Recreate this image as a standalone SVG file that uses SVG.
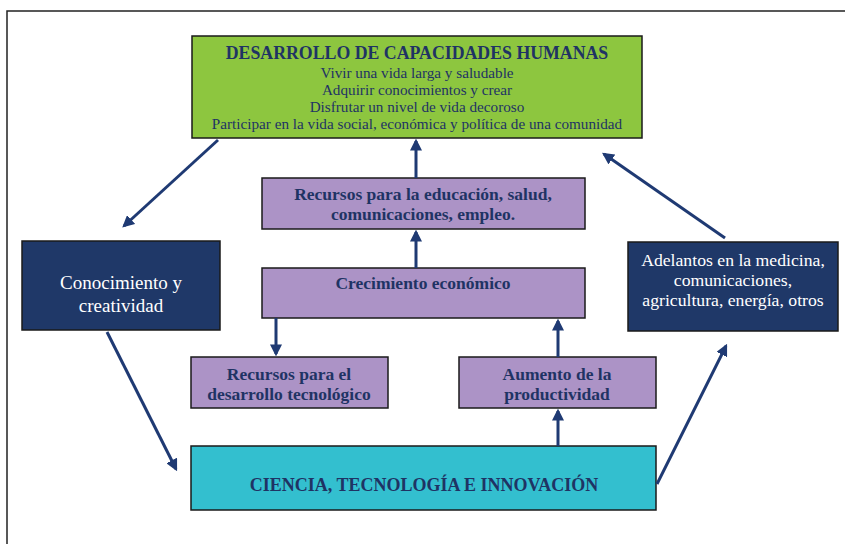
<svg xmlns="http://www.w3.org/2000/svg" width="845" height="544" viewBox="0 0 845 544">
<defs>
<style>
.frame{fill:none;stroke:#222;stroke-width:1.5}
.box{stroke:#1a1a1a;stroke-width:1.5}
.green{fill:#8dc63f}
.navy{fill:#1f3868}
.purple{fill:#ac93c6}
.cyan{fill:#33bfcf}
text{font-family:"Liberation Serif","Times New Roman",serif;text-anchor:middle}
.dk{fill:#1f3364}
.wt{fill:#ffffff}
.b{font-weight:bold}
.conn line{stroke:#1f3a73;stroke-width:3;marker-end:url(#ah)}
</style>
<marker id="ah" viewBox="0 0 10 10" refX="8" refY="5" markerWidth="4" markerHeight="4" orient="auto" markerUnits="strokeWidth">
<path d="M0,0 L10,5 L0,10 z" fill="#1f3a73"/>
</marker>
</defs>
<rect width="845" height="544" fill="#ffffff"/>
<rect class="frame" x="7" y="11" width="850" height="550"/>

<g id="capacidades">
<rect class="box green" x="192" y="36" width="450" height="102"/>
<text class="dk b" x="417" y="59" font-size="17.8">DESARROLLO DE CAPACIDADES HUMANAS</text>
<text class="dk" x="417" y="78" font-size="15.2">Vivir una vida larga y saludable</text>
<text class="dk" x="417" y="95" font-size="15.2">Adquirir conocimientos y crear</text>
<text class="dk" x="417" y="112" font-size="15.2">Disfrutar un nivel de vida decoroso</text>
<text class="dk" x="417" y="129" font-size="15.2">Participar en la vida social, económica y política de una comunidad</text>
</g>

<g id="conocimiento">
<rect class="box navy" x="22" y="241" width="198" height="89"/>
<text class="wt" x="121" y="289" font-size="19">Conocimiento y</text>
<text class="wt" x="121" y="312" font-size="19">creatividad</text>
</g>

<g id="adelantos">
<rect class="box navy" x="628" y="242" width="210" height="89"/>
<text class="wt" x="733" y="266" font-size="17.7">Adelantos en la medicina,</text>
<text class="wt" x="733" y="286" font-size="17.7">comunicaciones,</text>
<text class="wt" x="733" y="306" font-size="17.7">agricultura, energía, otros</text>
</g>

<g id="recursos-educacion">
<rect class="box purple" x="262" y="178" width="323" height="51"/>
<text class="dk b" x="423" y="200" font-size="17.5">Recursos para la educación, salud,</text>
<text class="dk b" x="423" y="220" font-size="17.5">comunicaciones, empleo.</text>
</g>

<g id="crecimiento">
<rect class="box purple" x="262" y="268" width="323" height="50"/>
<text class="dk b" x="423" y="289" font-size="17.5">Crecimiento económico</text>
</g>

<g id="recursos-desarrollo">
<rect class="box purple" x="191" y="357" width="197" height="51"/>
<text class="dk b" x="289" y="380" font-size="17.5">Recursos para el</text>
<text class="dk b" x="289" y="400" font-size="17.5">desarrollo tecnológico</text>
</g>

<g id="aumento">
<rect class="box purple" x="459" y="357" width="197" height="51"/>
<text class="dk b" x="557" y="380" font-size="17.5">Aumento de la</text>
<text class="dk b" x="557" y="400" font-size="17.5">productividad</text>
</g>

<g id="ciencia">
<rect class="box cyan" x="191" y="446" width="465" height="64"/>
<text class="dk b" x="424" y="491" font-size="18">CIENCIA, TECNOLOGÍA E INNOVACIÓN</text>
</g>

<g class="conn" id="connectors">
<line x1="218" y1="140" x2="124" y2="226"/>
<line x1="725" y1="238" x2="604" y2="154"/>
<line x1="416" y1="178" x2="416" y2="141"/>
<line x1="416" y1="268" x2="416" y2="232"/>
<line x1="276" y1="318" x2="276" y2="354"/>
<line x1="558" y1="357" x2="558" y2="321"/>
<line x1="558" y1="446" x2="558" y2="411"/>
<line x1="107" y1="332" x2="176" y2="469"/>
<line x1="657" y1="484" x2="726" y2="346"/>
</g>
</svg>
